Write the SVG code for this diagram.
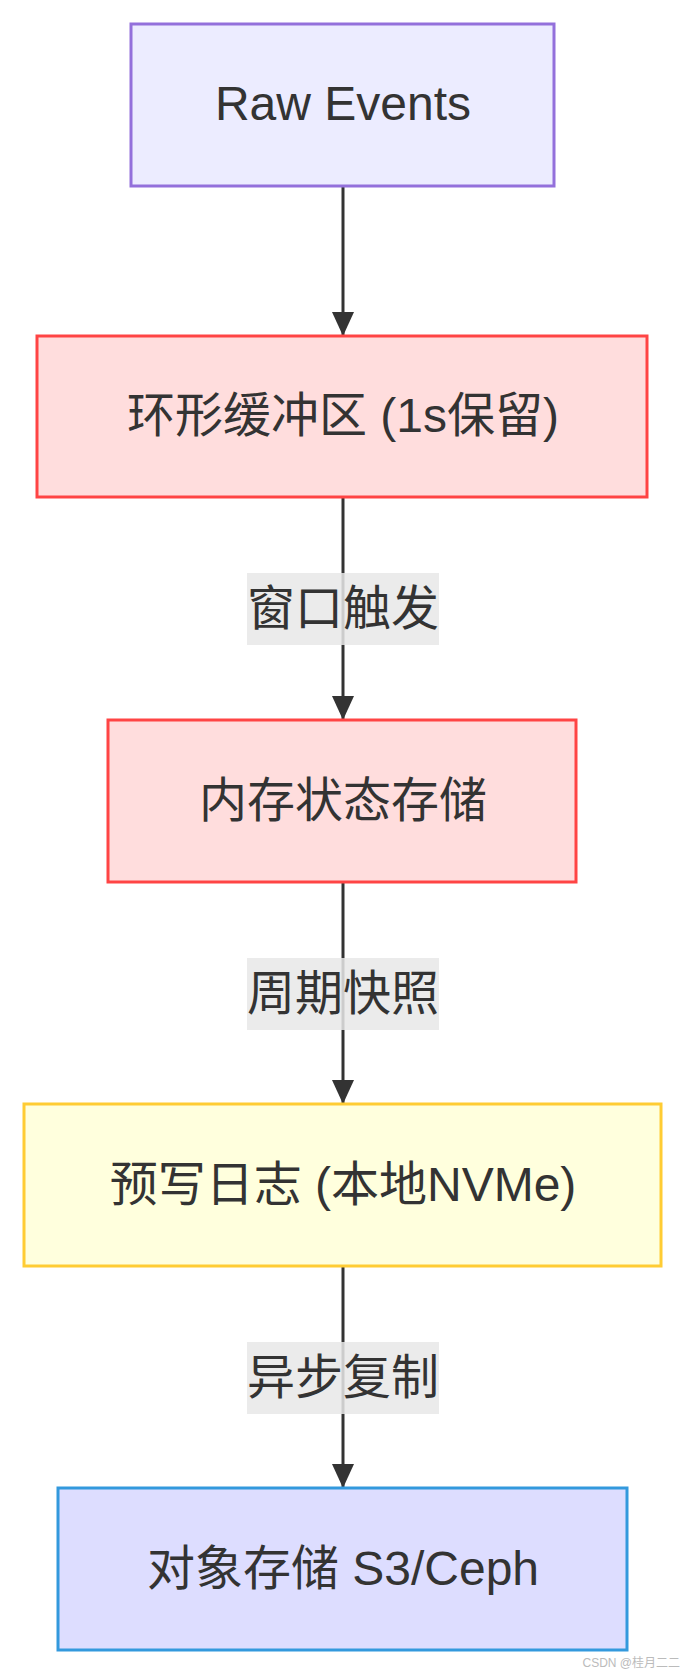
<svg xmlns="http://www.w3.org/2000/svg" width="684" height="1674" viewBox="0 0 684 1674">
<style>
.lbl{font-family:"Liberation Sans","Noto Sans CJK SC",sans-serif;font-size:48px;fill:#333;text-anchor:middle}
.edge{stroke:#333;stroke-width:3;fill:none}
.ebg{fill:#e8e8e8;opacity:0.85}
.n{stroke-width:3}
</style>
<defs>
<marker id="ah" viewBox="0 0 24 22" refX="24" refY="11" markerWidth="24" markerHeight="22" markerUnits="userSpaceOnUse" orient="auto">
<path d="M0,0 L24,11 L0,22 Z" fill="#333"/>
</marker>
</defs>
<rect width="684" height="1674" fill="#fff"/>
<g id="connectors">
<path class="edge" d="M343,186 L343,336" marker-end="url(#ah)"/>
<path class="edge" d="M343,497 L343,720" marker-end="url(#ah)"/>
<path class="edge" d="M343,882 L343,1104" marker-end="url(#ah)"/>
<path class="edge" d="M343,1266 L343,1488" marker-end="url(#ah)"/>
<g id="edge-label-1"><rect class="ebg" x="247" y="573" width="192" height="72"/><text class="lbl" x="343" y="625">窗口触发</text></g>
<g id="edge-label-2"><rect class="ebg" x="247" y="958" width="192" height="72"/><text class="lbl" x="343" y="1010">周期快照</text></g>
<g id="edge-label-3"><rect class="ebg" x="247" y="1342" width="192" height="72"/><text class="lbl" x="343" y="1394">异步复制</text></g>
</g>
<g id="raw-events">
<rect class="n" x="131" y="24" width="423" height="162" fill="#ececff" stroke="#9370db"/>
<text class="lbl" x="343" y="120" font-size="44">Raw Events</text>
</g>
<g id="ring-buffer">
<rect class="n" x="37" y="336" width="610" height="161" fill="#ffdddd" stroke="#ff4444"/>
<text class="lbl" x="343" y="432">环形缓冲区 (1s保留)</text>
</g>
<g id="memory-state">
<rect class="n" x="108" y="720" width="468" height="162" fill="#ffdddd" stroke="#ff4444"/>
<text class="lbl" x="343" y="817">内存状态存储</text>
</g>
<g id="wal">
<rect class="n" x="24" y="1104" width="637" height="162" fill="#ffffdd" stroke="#ffcc33"/>
<text class="lbl" x="343" y="1201">预写日志 (本地NVMe)</text>
</g>
<g id="object-storage">
<rect class="n" x="58" y="1488" width="569" height="162" fill="#ddddff" stroke="#3399dd"/>
<text class="lbl" x="343" y="1585">对象存储 S3/Ceph</text>
</g>
<text x="680" y="1667" font-family="Liberation Sans,'Noto Sans CJK SC',sans-serif" font-size="12" fill="#bbb" text-anchor="end">CSDN @桂月二二</text>
</svg>
